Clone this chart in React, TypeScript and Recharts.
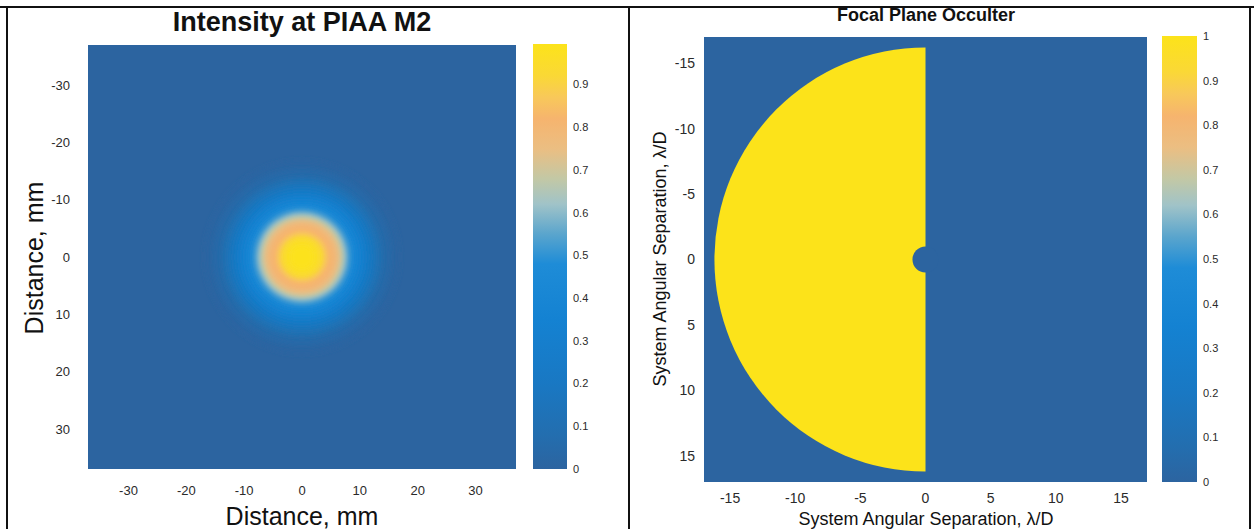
import React from 'react';
import { ComposedChart, Scatter, XAxis, YAxis, ReferenceArea } from 'recharts';

const FONT = '"Liberation Sans", Arial, Helvetica, sans-serif';

// ---- colour map (value -> colour) ----
const cmapStops = [0, 0.08, 0.2, 0.35, 0.48, 0.55, 0.62, 0.68, 0.75, 0.82, 0.87, 0.92, 1];
const cmapColors = ['#2c64a0', '#236eaf', '#1978c3', '#1482d2', '#1e8cd7', '#5aa5cd', '#a0c3c8', '#c3c8a5', '#ebbe82', '#f6b46e', '#f8c85a', '#fad836', '#fce31a'];

// ---- left panel: intensity at PIAA M2 (radial profile, radius in mm -> intensity) ----
const beamRadii = [17, 15.5, 14, 13, 12, 11, 10, 9, 8.4, 7.8, 7.2, 6.6, 6, 5.3, 4.5, 3.8, 3, 2];
const beamIntensity = [0.01, 0.04, 0.09, 0.15, 0.22, 0.3, 0.38, 0.45, 0.52, 0.6, 0.68, 0.74, 0.79, 0.82, 0.86, 0.92, 0.97, 0.99];
const beamCentre = [{ x: 0, y: 0 }];
const leftDomain = [-37, 37];
const leftTicks = [-30, -20, -10, 0, 10, 20, 30];
const leftCbarTicks = [0, 0.1, 0.2, 0.3, 0.4, 0.5, 0.6, 0.7, 0.8, 0.9];
const leftCbarMax = 0.995;

// ---- right panel: focal plane occulter (lambda/D) ----
const occulterRadius = [16.2];
const occulterHole = [1.0];
const occulterLevels = [1, 0]; // transmission inside / outside
const occulterCentre = [{ x: 0, y: 0 }];
const rightDomain = [-17, 17];
const rightTicks = [-15, -10, -5, 0, 5, 10, 15];
const rightCbarTicks = [0, 0.1, 0.2, 0.3, 0.4, 0.5, 0.6, 0.7, 0.8, 0.9, 1];
const rightCbarMax = 1;

function hexToRgb(h: string) {
  const n = parseInt(h.slice(1), 16);
  return [(n >> 16) & 255, (n >> 8) & 255, n & 255];
}
function cmap(v: number) {
  const t = Math.max(0, Math.min(1, v));
  let i = 0;
  while (i < cmapStops.length - 2 && t > cmapStops[i + 1]) i++;
  const f = (t - cmapStops[i]) / (cmapStops[i + 1] - cmapStops[i]);
  const a = hexToRgb(cmapColors[i]);
  const b = hexToRgb(cmapColors[i + 1]);
  const c = a.map((x, k) => Math.round(x + (b[k] - x) * f));
  return `rgb(${c[0]},${c[1]},${c[2]})`;
}

const tickStyle = (size: number) => ({ fontSize: size, fill: '#2a2a2a', fontFamily: FONT });

function Disc(fill: string, filter?: string) {
  return (p: any) => (
    <ellipse cx={p.x + p.width / 2} cy={p.y + p.height / 2} rx={Math.abs(p.width) / 2} ry={Math.abs(p.height) / 2} fill={fill} filter={filter} />
  );
}
function LeftHalfDisc(fill: string) {
  return (p: any) => {
    const cx = p.x + p.width / 2;
    const cy = p.y + p.height / 2;
    const rx = Math.abs(p.width) / 2;
    const ry = Math.abs(p.height) / 2;
    return <path d={`M ${cx} ${cy - ry} A ${rx} ${ry} 0 0 0 ${cx} ${cy + ry} Z`} fill={fill} />;
  };
}

function ColorBar({ width, height, margin, max, ticks, id, fontSize }: any) {
  return (
    <ComposedChart width={width} height={height} margin={margin}>
      <defs>
        <linearGradient id={id} x1="0" y1="1" x2="0" y2="0">
          {cmapStops.map((s, i) => (
            <stop key={i} offset={`${Math.min(100, (s / max) * 100)}%`} stopColor={cmapColors[i]} />
          ))}
        </linearGradient>
      </defs>
      <XAxis type="number" dataKey="x" domain={[0, 1]} hide />
      <YAxis type="number" dataKey="y" orientation="right" domain={[0, max]} ticks={ticks} width={40}
        axisLine={false} tickLine={false} tickSize={0} tickMargin={6} interval={0}
        tick={{ ...tickStyle(fontSize), textAnchor: 'start' }} tickFormatter={(v: number) => String(Math.round(v * 10) / 10)} />
      <ReferenceArea x1={0} x2={1} y1={0} y2={max} fill={`url(#${id})`} fillOpacity={1} stroke="none" ifOverflow="hidden" />
      <Scatter data={[{ x: 0.5, y: 0 }]} isAnimationActive={false} shape={() => <g />} />
    </ComposedChart>
  );
}

export default function App() {
  const bg = cmap(0);
  return (
    <div style={{ position: 'absolute', left: 0, top: 0, width: 1254, height: 529, background: '#fff', overflow: 'hidden', fontFamily: FONT }}>
      {/* left heat map */}
      <div style={{ position: 'absolute', left: 0, top: 0 }}>
        <ComposedChart width={530} height={529} margin={{ top: 45, right: 14, bottom: 30, left: 48 }}>
          <defs>
            <filter id="beamBlur" x="-30%" y="-30%" width="160%" height="160%">
              <feGaussianBlur stdDeviation="2" />
            </filter>
          </defs>
          <XAxis type="number" dataKey="x" domain={leftDomain} ticks={leftTicks} allowDataOverflow height={30}
            axisLine={false} tickLine={false} tickSize={0} tickMargin={17} interval={0} tick={tickStyle(13)} />
          <YAxis type="number" dataKey="y" domain={leftDomain} ticks={leftTicks} reversed allowDataOverflow width={40}
            axisLine={false} tickLine={false} tickSize={0} tickMargin={18} interval={0} tick={tickStyle(13)} />
          <ReferenceArea x1={leftDomain[0]} x2={leftDomain[1]} y1={leftDomain[0]} y2={leftDomain[1]} fill={bg} fillOpacity={1} stroke="none" ifOverflow="hidden" />
          {beamRadii.map((r, i) => (
            <ReferenceArea key={i} x1={-r} x2={r} y1={-r} y2={r} ifOverflow="hidden" shape={Disc(cmap(beamIntensity[i]), 'url(#beamBlur)')} />
          ))}
          <Scatter data={beamCentre} isAnimationActive={false} shape={() => <g />} />
        </ComposedChart>
      </div>
      <div style={{ position: 'absolute', left: 520, top: 0 }}>
        <ColorBar width={100} height={529} margin={{ top: 44, right: 13, bottom: 60, left: 13 }} max={leftCbarMax} ticks={leftCbarTicks} id="gradL" fontSize={11} />
      </div>

      {/* right occulter map */}
      <div style={{ position: 'absolute', left: 630, top: 0 }}>
        <ComposedChart width={530} height={529} margin={{ top: 37, right: 13, bottom: 17, left: 34 }}>
          <XAxis type="number" dataKey="x" domain={rightDomain} ticks={rightTicks} allowDataOverflow height={30}
            axisLine={false} tickLine={false} tickSize={0} tickMargin={11} interval={0} tick={tickStyle(14)} />
          <YAxis type="number" dataKey="y" domain={rightDomain} ticks={rightTicks} reversed allowDataOverflow width={40}
            axisLine={false} tickLine={false} tickSize={0} tickMargin={9} interval={0} tick={tickStyle(14)} />
          <ReferenceArea x1={rightDomain[0]} x2={rightDomain[1]} y1={rightDomain[0]} y2={rightDomain[1]} fill={cmap(occulterLevels[1])} fillOpacity={1} stroke="none" ifOverflow="hidden" />
          {occulterRadius.map((r, i) => (
            <ReferenceArea key={'o' + i} x1={-r} x2={r} y1={-r} y2={r} ifOverflow="hidden" shape={LeftHalfDisc(cmap(occulterLevels[0]))} />
          ))}
          {occulterHole.map((r, i) => (
            <ReferenceArea key={'h' + i} x1={-r} x2={r} y1={-r} y2={r} ifOverflow="hidden" shape={Disc(cmap(occulterLevels[1]))} />
          ))}
          <Scatter data={occulterCentre} isAnimationActive={false} shape={() => <g />} />
        </ComposedChart>
      </div>
      <div style={{ position: 'absolute', left: 1150, top: 0 }}>
        <ColorBar width={100} height={529} margin={{ top: 36, right: 13, bottom: 47, left: 12 }} max={rightCbarMax} ticks={rightCbarTicks} id="gradR" fontSize={11} />
      </div>

      {/* frame, titles and axis labels */}
      <svg width={1254} height={529} style={{ position: 'absolute', left: 0, top: 0, pointerEvents: 'none' }}>
        <line x1={0} y1={7} x2={1254} y2={7} stroke="#111" strokeWidth={2} />
        <line x1={7} y1={7} x2={7} y2={529} stroke="#111" strokeWidth={2} />
        <line x1={629} y1={7} x2={629} y2={529} stroke="#111" strokeWidth={2} />
        <line x1={1250} y1={7} x2={1250} y2={529} stroke="#111" strokeWidth={2} />
        <text x={302} y={31} textAnchor="middle" fontFamily={FONT} fontWeight="bold" fontSize={27} fill="#111">Intensity at PIAA M2</text>
        <text x={926} y={21} textAnchor="middle" fontFamily={FONT} fontWeight="bold" fontSize={18} fill="#111">Focal Plane Occulter</text>
        <text x={302} y={525} textAnchor="middle" fontFamily={FONT} fontSize={25} fill="#111">Distance, mm</text>
        <text transform="translate(43,258) rotate(-90)" textAnchor="middle" fontFamily={FONT} fontSize={25} fill="#111">Distance, mm</text>
        <text x={926} y={525} textAnchor="middle" fontFamily={FONT} fontSize={18} fill="#111">System Angular Separation, λ/D</text>
        <text transform="translate(666,259) rotate(-90)" textAnchor="middle" fontFamily={FONT} fontSize={18} fill="#111">System Angular Separation, λ/D</text>
      </svg>
    </div>
  );
}
